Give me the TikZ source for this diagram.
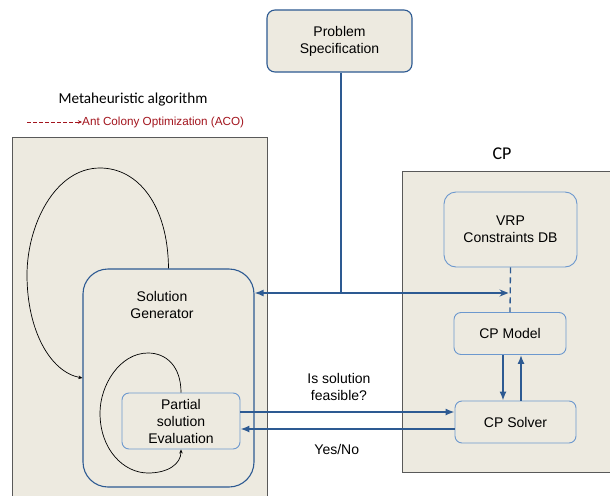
\documentclass[tikz,border=0pt]{standalone}
\usepackage{fontspec}
\setmainfont{Liberation Sans}
\newfontfamily\titlefont{Carlito}
\usetikzlibrary{arrows.meta,positioning}
\definecolor{beige}{HTML}{EDEAE0}
\definecolor{darkblue}{HTML}{2D5A92}
\definecolor{lightblue}{HTML}{6C98CE}
\definecolor{acored}{HTML}{A3151E}

\begin{document}
\begin{tikzpicture}[x=1pt,y=-1pt,
  area/.style={draw=black!65,fill=beige,line width=0.9pt},
  outerbox/.style={draw=darkblue,fill=beige,line width=1.1pt,align=center,inner sep=0pt,
    font=\fontsize{14}{17}\selectfont},
  innerbox/.style={draw=lightblue,fill=beige,line width=0.9pt,align=center,inner sep=0pt,
    rounded corners=7pt,font=\fontsize{14}{17}\selectfont},
  flow/.style={draw=darkblue,line width=1.5pt,-{Latex[length=9pt,width=7pt]}},
  loopline/.style={draw=black,line width=0.7pt,-{Stealth[length=4pt,width=3.5pt]}},
  lbl/.style={align=center,font=\fontsize{14}{17}\selectfont}]
\clip (0,0) rectangle (610,495);
\fill[white] (0,0) rectangle (610,495);

% the two areas
\draw[area] (12,137) rectangle (267,520);
\draw[area] (402,171) rectangle (630,472);

\node[font=\titlefont\fontsize{15.2}{17}\selectfont] (metatitle) at (133,100) {Metaheuristic algorithm};
\node[anchor=west,text=acored,inner sep=0pt,font=\fontsize{11.7}{13}\selectfont] (aco) at (82,122) {Ant Colony Optimization (ACO)};
\draw[acored,line width=0.6pt,dash pattern=on 4pt off 2pt,-{Stealth[length=4pt,width=3.5pt]}] (27,122) -- (aco.west);
\node[font=\titlefont\fontsize{18}{20}\selectfont] (cptitle) at (502,154) {CP};

% boxes
\node[outerbox,rounded corners=8pt,minimum width=145pt,minimum height=62pt] (probspec) at (339.5,41) {Problem\\Specification};
\node[outerbox,rounded corners=25pt,minimum width=171pt,minimum height=218pt] (solgen) at (168.5,378) {};
\node[lbl] (solgenlbl) at (162,305) {Solution\\Generator};
\node[innerbox,minimum width=118pt,minimum height=56pt] (partial) at (181,421) {Partial\\solution\\Evaluation};
\node[innerbox,rounded corners=12pt,minimum width=133pt,minimum height=75pt] (vrpdb) at (510.5,229.5) {VRP\\Constraints DB};
\node[innerbox,minimum width=112pt,minimum height=42pt] (cpmodel) at (510,333.5) {CP Model};
\node[innerbox,minimum width=121pt,minimum height=42pt] (cpsolver) at (515.5,422) {CP Solver};

% loops
\draw[loopline] (solgen.north) .. controls (168,205) and (138,168) .. (100,168)
  .. controls (55,168) and (27,225) .. (27,275)
  .. controls (27,330) and (50,372) .. (solgen.west);
\draw[loopline] (partial.north) .. controls (181,366) and (166,353) .. (148,353)
  .. controls (120,353) and (100,385) .. (100,413)
  .. controls (100,450) and (124,473) .. (148,473)
  .. controls (168,473) and (181,464) .. (partial.south);

% problem specification feeds both sides
\coordinate (specout) at ([xshift=1.5pt]probspec.south);
\coordinate (junction) at (specout |- 0,293);
\coordinate (dbjoin) at (vrpdb.south |- junction);
\draw[draw=darkblue,line width=1.5pt] (specout) -- (junction);
\draw[flow] (junction) -- (solgen.east |- junction);
\draw[draw=darkblue,line width=1.5pt,-{Stealth[length=9pt,width=7pt]},shorten >=2pt] (junction) -- (dbjoin);
\draw[draw=darkblue,line width=1.3pt,dash pattern=on 6pt off 4pt] (vrpdb.south) -- (cpmodel.north);

% model and solver
\draw[flow] ([xshift=-7pt]cpmodel.south) -- ([xshift=-7pt]cpmodel.south |- cpsolver.north);
\draw[flow] ([xshift=11pt]cpmodel.south |- cpsolver.north) -- ([xshift=11pt]cpmodel.south);

% feasibility check
\draw[flow] ([yshift=9pt]partial.east) -- ([yshift=9pt]partial.east -| cpsolver.west)
  node[lbl,pos=0.46,above=7pt] (asklbl) {Is solution\\feasible?};
\draw[flow] ([yshift=-8pt]partial.east -| cpsolver.west) -- ([yshift=-8pt]partial.east)
  node[lbl,pos=0.55,below=11pt] (replylbl) {Yes/No};
\end{tikzpicture}
\end{document}
